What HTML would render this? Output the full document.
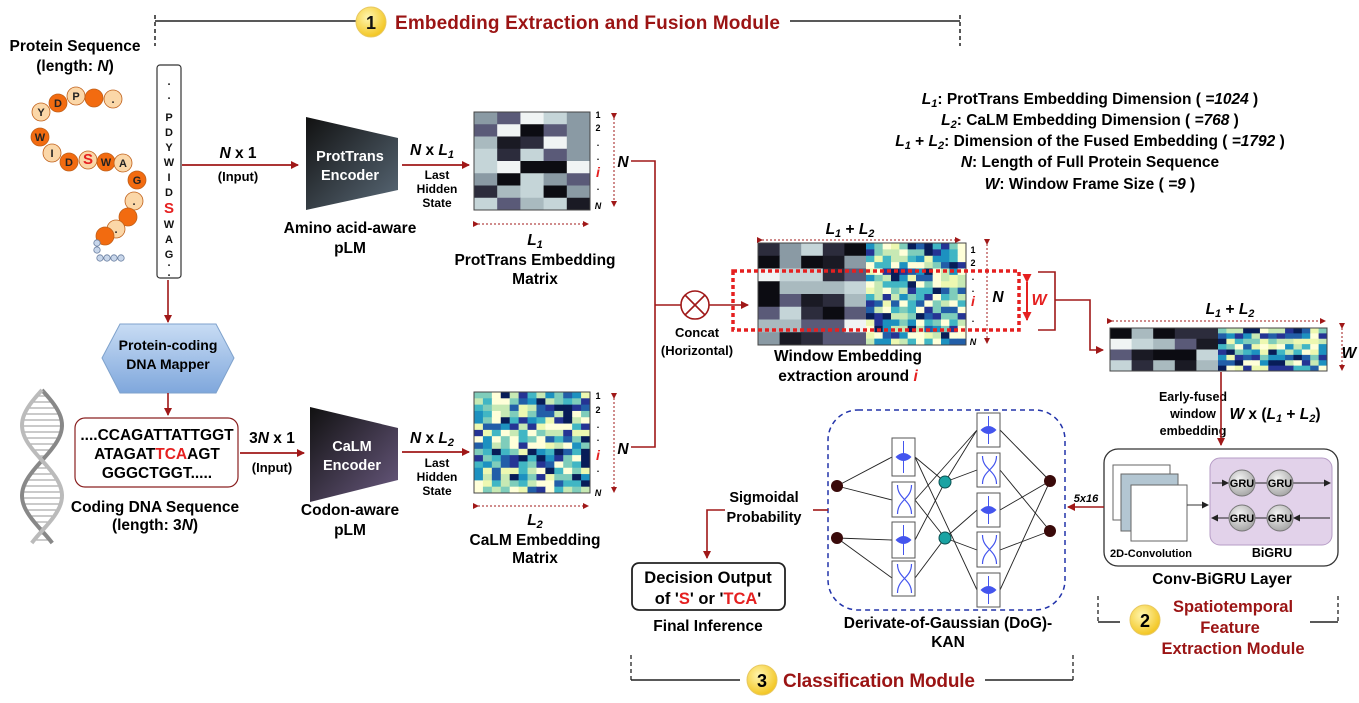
<!DOCTYPE html>
<html><head><meta charset="utf-8">
<style>
html,body{margin:0;padding:0;background:#fff;}
svg{display:block;font-family:"Liberation Sans",Arial,sans-serif;font-weight:bold;}
</style></head>
<body>
<svg id="s" width="1359" height="703" viewBox="0 0 1359 703" xmlns="http://www.w3.org/2000/svg">
<defs>
<marker id="ar" markerWidth="8" markerHeight="8" refX="7" refY="4" orient="auto" markerUnits="userSpaceOnUse"><path d="M0,0 L8,4 L0,8 z" fill="#a01818"/></marker>
<marker id="ars" markerWidth="6" markerHeight="6" refX="5" refY="3" orient="auto" markerUnits="userSpaceOnUse"><path d="M0,0 L6,3 L0,6 z" fill="#a01818"/></marker>
<marker id="arb" markerWidth="7" markerHeight="7" refX="6" refY="3.5" orient="auto" markerUnits="userSpaceOnUse"><path d="M0,0 L7,3.5 L0,7 z" fill="#222"/></marker>
<marker id="arr" markerWidth="9" markerHeight="9" refX="8" refY="4.5" orient="auto" markerUnits="userSpaceOnUse"><path d="M0,0 L9,4.5 L0,9 z" fill="#e52020"/></marker>
<radialGradient id="yel" cx="40%" cy="35%" r="65%"><stop offset="0" stop-color="#fff6b0"/><stop offset="1" stop-color="#f3c623"/></radialGradient>
<radialGradient id="gru" cx="40%" cy="35%" r="65%"><stop offset="0" stop-color="#f4f4f4"/><stop offset="1" stop-color="#a8a8a8"/></radialGradient>
<linearGradient id="enc1" x1="0" y1="0" x2="1" y2="1"><stop offset="0" stop-color="#111"/><stop offset="1" stop-color="#5a6a78"/></linearGradient>
<linearGradient id="enc2" x1="0" y1="0" x2="1" y2="1"><stop offset="0" stop-color="#111"/><stop offset="1" stop-color="#6a5a80"/></linearGradient>
<linearGradient id="hex" x1="0" y1="0" x2="0" y2="1"><stop offset="0" stop-color="#c8dcf4"/><stop offset="1" stop-color="#7fa7dc"/></linearGradient>
</defs>

<!-- Module 1 header -->
<line x1="155" y1="21" x2="356" y2="21" stroke="#222" stroke-width="1.5"/>
<line x1="155" y1="15" x2="155" y2="46" stroke="#222" stroke-width="1.5" stroke-dasharray="4,3"/>
<line x1="790" y1="21" x2="960" y2="21" stroke="#222" stroke-width="1.5"/>
<line x1="960" y1="15" x2="960" y2="46" stroke="#222" stroke-width="1.5" stroke-dasharray="4,3"/>
<circle cx="371" cy="22" r="15" fill="url(#yel)" stroke="#e8c860"/>
<text x="371" y="29" font-size="18" text-anchor="middle" fill="#111">1</text>
<text x="395" y="29" font-size="19" fill="#9b1414" textLength="385">Embedding Extraction and Fusion Module</text>

<!-- Protein sequence -->
<text x="75" y="51" font-size="15.5" text-anchor="middle">Protein Sequence</text>
<text x="75" y="71" font-size="15.5" text-anchor="middle">(length: <tspan font-style="italic">N</tspan>)</text>
<g id="chain"></g>

<rect x="157" y="65" width="24" height="213" rx="3" fill="#fff" stroke="#333" stroke-width="1.2"/>
<g font-size="11" text-anchor="middle" fill="#111">
<text x="169" y="85">.</text><text x="169" y="99">.</text>
<text x="169" y="121">P</text><text x="169" y="136">D</text><text x="169" y="151">Y</text><text x="169" y="166">W</text><text x="169" y="181">I</text><text x="169" y="196">D</text>
<text x="169" y="213" font-size="15" fill="#e52020">S</text>
<text x="169" y="228">W</text><text x="169" y="243">A</text><text x="169" y="258">G</text><text x="169" y="266">.</text><text x="169" y="276">.</text>
</g>

<line x1="182" y1="165" x2="298" y2="165" stroke="#a01818" stroke-width="1.8" marker-end="url(#ar)"/>
<text x="238" y="158" font-size="15.5" text-anchor="middle"><tspan font-style="italic">N</tspan> x 1</text>
<text x="238" y="181" font-size="13" text-anchor="middle">(Input)</text>

<!-- ProtTrans encoder -->
<path d="M306,117 L398,138 L398,190 L306,210 Z" fill="url(#enc1)"/>
<text x="350" y="161" font-size="14.5" fill="#fff" text-anchor="middle">ProtTrans</text>
<text x="350" y="180" font-size="14.5" fill="#fff" text-anchor="middle">Encoder</text>
<text x="350" y="233" font-size="15.5" text-anchor="middle">Amino acid-aware</text>
<text x="350" y="253" font-size="15.5" text-anchor="middle">pLM</text>

<line x1="402" y1="165" x2="469" y2="165" stroke="#a01818" stroke-width="1.8" marker-end="url(#ar)"/>
<text x="432" y="155" font-size="15.5" text-anchor="middle"><tspan font-style="italic">N</tspan> x <tspan font-style="italic">L<tspan font-size="11" dy="3">1</tspan></tspan></text>
<g font-size="12" text-anchor="middle"><text x="437" y="179">Last</text><text x="437" y="193">Hidden</text><text x="437" y="207">State</text></g>

<g id="m1"></g>
<g font-size="9" text-anchor="middle"><text x="598" y="118">1</text><text x="598" y="131">2</text><text x="598" y="146">.</text><text x="598" y="160">.</text><text x="598" y="190">.</text><text x="598" y="209" font-style="italic">N</text></g>
<text x="598" y="177" font-size="14" font-style="italic" fill="#e52020" text-anchor="middle">i</text>
<line x1="614" y1="118" x2="614" y2="206" stroke="#a01818" stroke-dasharray="2,2" marker-start="url(#ars)" marker-end="url(#ars)"/>
<line x1="478" y1="224" x2="588" y2="224" stroke="#a01818" stroke-dasharray="2,2" marker-start="url(#ars)" marker-end="url(#ars)"/>
<text x="535" y="245" font-size="15.5" font-style="italic" text-anchor="middle">L<tspan font-size="11" dy="3">1</tspan></text>
<text x="535" y="265" font-size="15.5" text-anchor="middle">ProtTrans Embedding</text>
<text x="535" y="284" font-size="15.5" text-anchor="middle">Matrix</text>
<text x="623" y="167" font-size="15.5" font-style="italic" text-anchor="middle">N</text>

<!-- concat lines -->
<path d="M631,161 H655 V447 H631" fill="none" stroke="#a01818" stroke-width="1.6"/>
<line x1="655" y1="305" x2="681" y2="305" stroke="#a01818" stroke-width="1.6"/>
<circle cx="695" cy="305" r="14" fill="#fff" stroke="#a01818" stroke-width="1.6"/>
<path d="M685,295 L705,315 M705,295 L685,315" stroke="#a01818" stroke-width="1.6"/>
<line x1="709" y1="305" x2="748" y2="305" stroke="#a01818" stroke-width="1.6" marker-end="url(#ar)"/>
<text x="697" y="337" font-size="13" text-anchor="middle">Concat</text>
<text x="697" y="355" font-size="13" text-anchor="middle">(Horizontal)</text>

<!-- mapper -->
<line x1="168" y1="280" x2="168" y2="322" stroke="#a01818" stroke-width="1.6" marker-end="url(#ar)"/>
<path d="M120,324 L216,324 L234,358 L216,393 L120,393 L102,358 Z" fill="url(#hex)" stroke="#7fa2cc"/>
<text x="168" y="350" font-size="14" text-anchor="middle">Protein-coding</text>
<text x="168" y="369" font-size="14" text-anchor="middle">DNA Mapper</text>
<line x1="168" y1="393" x2="168" y2="415" stroke="#a01818" stroke-width="1.6" marker-end="url(#ar)"/>

<g id="dna"></g>

<rect x="75" y="418" width="163" height="69" rx="10" fill="#fff" stroke="#8a2020" stroke-width="1.2"/>
<g font-size="15.5" text-anchor="middle">
<text x="157" y="440">....CCAGATTATTGGT</text>
<text x="157" y="459">ATAGAT<tspan fill="#e52020">TCA</tspan>AGT</text>
<text x="157" y="478">GGGCTGGT.....</text>
</g>
<text x="155" y="512" font-size="15.5" text-anchor="middle">Coding DNA Sequence</text>
<text x="155" y="530" font-size="15.5" text-anchor="middle">(length: 3<tspan font-style="italic">N</tspan>)</text>

<line x1="240" y1="453" x2="304" y2="453" stroke="#a01818" stroke-width="1.8" marker-end="url(#ar)"/>
<text x="272" y="443" font-size="15.5" text-anchor="middle">3<tspan font-style="italic">N</tspan> x 1</text>
<text x="272" y="472" font-size="13" text-anchor="middle">(Input)</text>

<path d="M310,407 L398,428 L398,480 L310,502 Z" fill="url(#enc2)"/>
<text x="352" y="451" font-size="14.5" fill="#fff" text-anchor="middle">CaLM</text>
<text x="352" y="470" font-size="14.5" fill="#fff" text-anchor="middle">Encoder</text>
<text x="350" y="515" font-size="15.5" text-anchor="middle">Codon-aware</text>
<text x="350" y="535" font-size="15.5" text-anchor="middle">pLM</text>

<line x1="402" y1="452" x2="469" y2="452" stroke="#a01818" stroke-width="1.8" marker-end="url(#ar)"/>
<text x="432" y="443" font-size="15.5" text-anchor="middle"><tspan font-style="italic">N</tspan> x <tspan font-style="italic">L<tspan font-size="11" dy="3">2</tspan></tspan></text>
<g font-size="12" text-anchor="middle"><text x="437" y="467">Last</text><text x="437" y="481">Hidden</text><text x="437" y="495">State</text></g>

<g id="m2"></g>
<g font-size="9" text-anchor="middle"><text x="598" y="399">1</text><text x="598" y="413">2</text><text x="598" y="428">.</text><text x="598" y="441">.</text><text x="598" y="472">.</text><text x="598" y="496" font-style="italic">N</text></g>
<text x="598" y="460" font-size="14" font-style="italic" fill="#e52020" text-anchor="middle">i</text>
<line x1="614" y1="398" x2="614" y2="492" stroke="#a01818" stroke-dasharray="2,2" marker-start="url(#ars)" marker-end="url(#ars)"/>
<line x1="478" y1="506" x2="588" y2="506" stroke="#a01818" stroke-dasharray="2,2" marker-start="url(#ars)" marker-end="url(#ars)"/>
<text x="535" y="525" font-size="15.5" font-style="italic" text-anchor="middle">L<tspan font-size="11" dy="3">2</tspan></text>
<text x="535" y="545" font-size="15.5" text-anchor="middle">CaLM Embedding</text>
<text x="535" y="563" font-size="15.5" text-anchor="middle">Matrix</text>
<text x="623" y="454" font-size="15.5" font-style="italic" text-anchor="middle">N</text>

<!-- Legend -->
<g font-size="15.5" text-anchor="middle">
<text x="1090" y="104"><tspan font-style="italic">L<tspan font-size="11" dy="3">1</tspan></tspan><tspan dy="-3">: ProtTrans Embedding Dimension ( </tspan><tspan font-style="italic">=1024</tspan> )</text>
<text x="1090" y="125"><tspan font-style="italic">L<tspan font-size="11" dy="3">2</tspan></tspan><tspan dy="-3">: CaLM Embedding Dimension ( </tspan><tspan font-style="italic">=768</tspan> )</text>
<text x="1090" y="146"><tspan font-style="italic">L<tspan font-size="11" dy="3">1</tspan></tspan><tspan dy="-3"> + </tspan><tspan font-style="italic">L<tspan font-size="11" dy="3">2</tspan></tspan><tspan dy="-3">: Dimension of the Fused Embedding ( </tspan><tspan font-style="italic">=1792</tspan> )</text>
<text x="1090" y="167"><tspan font-style="italic">N</tspan>: Length of Full Protein Sequence</text>
<text x="1090" y="189"><tspan font-style="italic">W</tspan>: Window Frame Size ( <tspan font-style="italic">=9</tspan> )</text>
</g>

<!-- window embedding -->
<text x="850" y="234" font-size="15.5" font-style="italic" text-anchor="middle">L<tspan font-size="11" dy="3">1</tspan><tspan dy="-3" font-style="normal"> + </tspan>L<tspan font-size="11" dy="3">2</tspan></text>
<line x1="762" y1="240" x2="960" y2="240" stroke="#a01818" stroke-dasharray="2,2" marker-start="url(#ars)" marker-end="url(#ars)"/>
<g id="m3"></g>
<g font-size="9" text-anchor="middle"><text x="973" y="253">1</text><text x="973" y="266">2</text><text x="973" y="280">.</text><text x="973" y="292">.</text><text x="973" y="322">.</text><text x="973" y="345" font-style="italic">N</text></g>
<text x="973" y="306" font-size="14" font-style="italic" fill="#e52020" text-anchor="middle">i</text>
<line x1="987" y1="244" x2="987" y2="343" stroke="#a01818" stroke-dasharray="2,2" marker-start="url(#ars)" marker-end="url(#ars)"/>
<text x="998" y="302" font-size="15.5" font-style="italic" text-anchor="middle">N</text>
<rect x="733" y="271" width="286" height="59" fill="none" stroke="#e52020" stroke-width="3.5" stroke-dasharray="4,3"/>
<line x1="1027" y1="282" x2="1027" y2="320" stroke="#e52020" stroke-width="2" marker-start="url(#arr)" marker-end="url(#arr)"/>
<text x="1039" y="305" font-size="16" font-style="italic" fill="#e52020" text-anchor="middle">W</text>
<path d="M1038,272 H1055 V330 H1038" fill="none" stroke="#a01818" stroke-width="1.6"/>
<path d="M1055,300 H1090 V350 H1103" fill="none" stroke="#a01818" stroke-width="1.6" marker-end="url(#ar)"/>
<text x="848" y="361" font-size="15.5" text-anchor="middle">Window Embedding</text>
<text x="848" y="381" font-size="15.5" text-anchor="middle">extraction around <tspan fill="#e52020" font-style="italic">i</tspan></text>

<!-- early fused -->
<text x="1230" y="314" font-size="15.5" font-style="italic" text-anchor="middle">L<tspan font-size="11" dy="3">1</tspan><tspan dy="-3" font-style="normal"> + </tspan>L<tspan font-size="11" dy="3">2</tspan></text>
<line x1="1112" y1="321" x2="1325" y2="321" stroke="#a01818" stroke-dasharray="2,2" marker-start="url(#ars)" marker-end="url(#ars)"/>
<g id="m4"></g>
<line x1="1342" y1="328" x2="1342" y2="370" stroke="#a01818" stroke-dasharray="2,2" marker-start="url(#ars)" marker-end="url(#ars)"/>
<text x="1349" y="358" font-size="15.5" font-style="italic" text-anchor="middle">W</text>
<g font-size="12.5" text-anchor="middle"><text x="1193" y="401">Early-fused</text><text x="1193" y="418">window</text><text x="1193" y="435">embedding</text></g>
<line x1="1221" y1="372" x2="1221" y2="445" stroke="#a01818" stroke-width="1.6" marker-end="url(#ar)"/>
<text x="1275" y="419" font-size="15.5" text-anchor="middle"><tspan font-style="italic">W</tspan> x (<tspan font-style="italic">L<tspan font-size="11" dy="3">1</tspan></tspan><tspan dy="-3"> + </tspan><tspan font-style="italic">L<tspan font-size="11" dy="3">2</tspan></tspan><tspan dy="-3">)</tspan></text>

<!-- Conv-BiGRU -->
<rect x="1104" y="449" width="234" height="117" rx="14" fill="#fff" stroke="#333" stroke-width="1.3"/>
<rect x="1113" y="465" width="57" height="55" fill="#fff" stroke="#666"/>
<rect x="1121" y="474" width="57" height="57" fill="#b3c6d2" stroke="#666"/>
<rect x="1131" y="485" width="56" height="56" fill="#fff" stroke="#666"/>
<line x1="1187" y1="505" x2="1208" y2="505" stroke="#333" marker-end="url(#arb)"/>
<rect x="1210" y="458" width="122" height="87" rx="10" fill="#e2d2ea" stroke="#b69cc6"/>
<line x1="1212" y1="483" x2="1228" y2="483" stroke="#222" marker-end="url(#arb)"/>
<line x1="1255" y1="483" x2="1267" y2="483" stroke="#222"/>
<line x1="1293" y1="483" x2="1330" y2="483" stroke="#222" marker-end="url(#arb)"/>
<line x1="1330" y1="518" x2="1294" y2="518" stroke="#222" marker-end="url(#arb)"/>
<line x1="1255" y1="518" x2="1267" y2="518" stroke="#222"/>
<line x1="1229" y1="518" x2="1212" y2="518" stroke="#222" marker-end="url(#arb)"/>
<g font-size="11" text-anchor="middle">
<circle cx="1242" cy="483" r="13" fill="url(#gru)" stroke="#777"/><text x="1242" y="487">GRU</text>
<circle cx="1280" cy="483" r="13" fill="url(#gru)" stroke="#777"/><text x="1280" y="487">GRU</text>
<circle cx="1242" cy="518" r="13" fill="url(#gru)" stroke="#777"/><text x="1242" y="522">GRU</text>
<circle cx="1280" cy="518" r="13" fill="url(#gru)" stroke="#777"/><text x="1280" y="522">GRU</text>
</g>
<text x="1151" y="557" font-size="11" text-anchor="middle">2D-Convolution</text>
<text x="1272" y="557" font-size="12.5" text-anchor="middle">BiGRU</text>
<text x="1222" y="584" font-size="15.5" text-anchor="middle">Conv-BiGRU Layer</text>

<line x1="1104" y1="507" x2="1068" y2="507" stroke="#a01818" stroke-width="1.6" marker-end="url(#ar)"/>
<text x="1086" y="502" font-size="11" font-style="italic" text-anchor="middle">5x16</text>

<!-- Module 2 -->
<line x1="1098" y1="596" x2="1098" y2="624" stroke="#222" stroke-width="1.3" stroke-dasharray="4,3"/>
<line x1="1098" y1="622" x2="1120" y2="622" stroke="#222" stroke-width="1.5"/>
<line x1="1310" y1="622" x2="1338" y2="622" stroke="#222" stroke-width="1.5"/>
<line x1="1338" y1="596" x2="1338" y2="624" stroke="#222" stroke-width="1.3" stroke-dasharray="4,3"/>
<circle cx="1145" cy="620" r="15" fill="url(#yel)" stroke="#e8c860"/>
<text x="1145" y="627" font-size="18" text-anchor="middle">2</text>
<g font-size="16.5" fill="#9b1414" text-anchor="middle"><text x="1233" y="612">Spatiotemporal</text><text x="1230" y="633">Feature</text><text x="1233" y="654">Extraction Module</text></g>

<!-- KAN -->
<rect x="828" y="410" width="237" height="200" rx="30" fill="none" stroke="#2233aa" stroke-width="1.5" stroke-dasharray="5,4"/>
<g id="kan"></g>
<text x="948" y="628" font-size="15.5" text-anchor="middle">Derivate-of-Gaussian (DoG)-</text>
<text x="948" y="647" font-size="15.5" text-anchor="middle">KAN</text>

<line x1="813" y1="510" x2="828" y2="510" stroke="#a01818" stroke-width="1.6"/>
<text x="764" y="502" font-size="14.5" text-anchor="middle">Sigmoidal</text>
<text x="764" y="522" font-size="14.5" text-anchor="middle">Probability</text>
<path d="M725,510 H707 V558" fill="none" stroke="#a01818" stroke-width="1.6" marker-end="url(#ar)"/>
<rect x="632" y="563" width="153" height="47" rx="7" fill="#fff" stroke="#222" stroke-width="1.8"/>
<text x="708" y="583" font-size="16.5" text-anchor="middle">Decision Output</text>
<text x="708" y="604" font-size="16.5" text-anchor="middle">of '<tspan fill="#e52020">S</tspan>' or '<tspan fill="#e52020">TCA</tspan>'</text>
<text x="708" y="631" font-size="15.5" text-anchor="middle">Final Inference</text>

<!-- Module 3 -->
<line x1="631" y1="655" x2="631" y2="682" stroke="#222" stroke-width="1.3" stroke-dasharray="4,3"/>
<line x1="631" y1="680" x2="740" y2="680" stroke="#222" stroke-width="1.5"/>
<line x1="985" y1="680" x2="1073" y2="680" stroke="#222" stroke-width="1.5"/>
<line x1="1073" y1="655" x2="1073" y2="682" stroke="#222" stroke-width="1.3" stroke-dasharray="4,3"/>
<circle cx="762" cy="680" r="15" fill="url(#yel)" stroke="#e8c860"/>
<text x="762" y="687" font-size="18" text-anchor="middle">3</text>
<text x="783" y="687" font-size="19" fill="#9b1414" textLength="192">Classification Module</text>
</svg>
<script>
(function(){
var NS="http://www.w3.org/2000/svg";
function el(p,t,a){var e=document.createElementNS(NS,t);for(var k in a)e.setAttribute(k,a[k]);p.appendChild(e);return e;}
var seed=7;function rnd(){seed=(seed*9301+49297)%233280;return seed/233280;}
var gray=['#f0f4f4','#c5d5d8','#a9babf','#8a9aa4','#5a5a78','#2c2c3c','#1a1a24','#0c0c12'];
var ylg=['#ffffd9','#edf8b1','#c7e9b4','#7fcdbb','#41b6c4','#1d91c0','#225ea8','#253494','#081d58'];
function heat(g,x,y,w,h,c,r,pal){for(var i=0;i<r;i++)for(var j=0;j<c;j++){el(g,'rect',{x:x+j*w/c,y:y+i*h/r,width:w/c+0.5,height:h/r+0.5,fill:pal[Math.floor(rnd()*pal.length)]});}}
var g1=document.getElementById('m1');heat(g1,474,112,116,98,5,8,gray);el(g1,'rect',{x:474,y:112,width:116,height:98,fill:'none',stroke:'#444'});
var g2=document.getElementById('m2');heat(g2,474,392,116,101,13,16,ylg);el(g2,'rect',{x:474,y:392,width:116,height:101,fill:'none',stroke:'#444'});
var g3=document.getElementById('m3');heat(g3,758,243,108,102,5,8,gray);heat(g3,866,243,100,102,12,16,ylg);el(g3,'rect',{x:758,y:243,width:208,height:102,fill:'none',stroke:'#444'});
var g4=document.getElementById('m4');heat(g4,1110,328,108,43,5,4,gray);heat(g4,1218,328,109,43,13,8,ylg);el(g4,'rect',{x:1110,y:328,width:217,height:43,fill:'none',stroke:'#444'});
var ch=document.getElementById('chain');
var C=[[41,112,'Y',0],[58,103,'D',1],[76,96,'P',0],[94,98,'',1],[113,99,'.',0],[40,137,'W',1],[52,153,'I',0],[69,162,'D',1],[88,160,'S',2],[106,162,'W',1],[123,163,'A',0],[137,180,'G',1],[134,201,'.',0],[128,217,'',1],[116,229,'.',0],[105,236,'',1]];
C.forEach(function(c){var f=c[3]==1?'#f26b10':'#fbd7a8';el(ch,'circle',{cx:c[0],cy:c[1],r:9,fill:f,stroke:'#c0601a','stroke-width':0.8});
if(c[2]){var t=el(ch,'text',{x:c[0],y:c[1]+4,'font-size':c[3]==2?15:11,'text-anchor':'middle',fill:c[3]==2?'#e52020':'#222'});t.textContent=c[2];}});
[[97,243],[97,250],[100,258],[107,258],[114,258],[121,258]].forEach(function(p){el(ch,'circle',{cx:p[0],cy:p[1],r:3.2,fill:'#c8d6ea',stroke:'#6a7fa0','stroke-width':0.8});});
var d=document.getElementById('dna');var p1='',p2='';
for(var y=390;y<=545;y+=3){var s=Math.sin((y-390)/155*Math.PI*2.2);var x1=42+20*s,x2=42-20*s;p1+=(y==390?'M':'L')+x1+','+y;p2+=(y==390?'M':'L')+x2+','+y;if(y%6==0)el(d,'line',{x1:x1,y1:y,x2:x2,y2:y,stroke:'#aaa','stroke-width':1.2});}
el(d,'path',{d:p1,fill:'none',stroke:'#888','stroke-width':4});el(d,'path',{d:p2,fill:'none',stroke:'#bbb','stroke-width':4});
var k=document.getElementById('kan');
var L=[[837,486],[837,538]],T=[[945,482],[945,538]],R=[[1050,481],[1050,531]];
var B1=[[892,438,476],[892,482,517],[892,522,558],[892,561,596]];
var B2=[[977,413,447],[977,453,487],[977,493,527],[977,532,567],[977,573,607]];
function ln(a,b,c,dd){el(k,'line',{x1:a,y1:b,x2:c,y2:dd,stroke:'#222','stroke-width':0.9});}
ln(837,486,892,457);ln(837,486,892,500);ln(837,538,892,540);ln(837,538,892,578);
ln(915,457,945,482);ln(915,500,945,538);ln(915,540,945,482);ln(915,578,945,538);
ln(945,482,977,430);ln(945,482,977,470);ln(945,538,977,510);ln(945,538,977,550);
ln(915,457,977,590);ln(915,500,977,430);
ln(1000,430,1050,481);ln(1000,470,1050,531);ln(1000,510,1050,481);ln(1000,550,1050,531);ln(1000,590,1050,481);
function box(b,i){el(k,'rect',{x:b[0],y:b[1],width:23,height:b[2]-b[1],fill:'#fff',stroke:'#555'});var cx=b[0]+11.5,cy=(b[1]+b[2])/2;
if(i%2==0){el(k,'line',{x1:cx,y1:b[1]+3,x2:cx,y2:b[2]-3,stroke:'#4455ee'});el(k,'path',{d:'M'+(cx-8)+','+cy+' Q'+cx+','+(cy-8)+' '+(cx+8)+','+cy+' Q'+cx+','+(cy+8)+' '+(cx-8)+','+cy,fill:'#4455ee'});}
else{el(k,'path',{d:'M'+(cx-6)+','+(b[1]+3)+' C'+(cx-6)+','+(cy)+' '+(cx+8)+','+cy+' '+(cx+8)+','+(b[2]-3)+' M'+(cx+8)+','+(b[1]+3)+' C'+(cx+8)+','+cy+' '+(cx-6)+','+cy+' '+(cx-6)+','+(b[2]-3),fill:'none',stroke:'#4455ee','stroke-width':1.2});}}
B1.forEach(box);B2.forEach(box);
L.concat(R).forEach(function(p){el(k,'circle',{cx:p[0],cy:p[1],r:6,fill:'#3a0a0a'});});
T.forEach(function(p){el(k,'circle',{cx:p[0],cy:p[1],r:6,fill:'#1aa3a3',stroke:'#0a5050'});});
})();
</script>
</body></html>
